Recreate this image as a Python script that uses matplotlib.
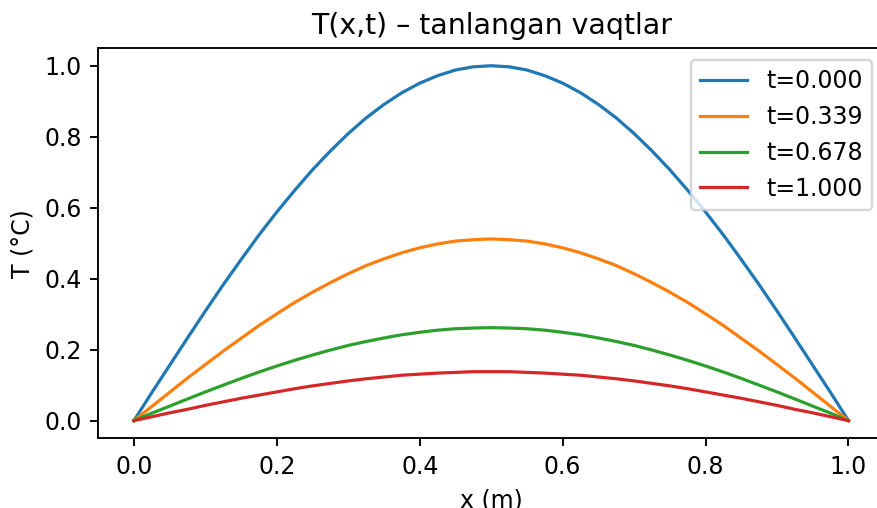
import matplotlib
matplotlib.use("Agg")
import matplotlib.pyplot as plt

x = [0.000, 0.025, 0.050, 0.075, 0.100, 0.125, 0.150, 0.175, 0.200, 0.225,
     0.250, 0.275, 0.300, 0.325, 0.350, 0.375, 0.400, 0.425, 0.450, 0.475,
     0.500, 0.525, 0.550, 0.575, 0.600, 0.625, 0.650, 0.675, 0.700, 0.725,
     0.750, 0.775, 0.800, 0.825, 0.850, 0.875, 0.900, 0.925, 0.950, 0.975, 1.000]

T_000 = [0.000, 0.079, 0.156, 0.233, 0.309, 0.383, 0.454, 0.523, 0.588, 0.649,
         0.707, 0.760, 0.809, 0.853, 0.891, 0.924, 0.951, 0.972, 0.988, 0.997,
         1.000, 0.997, 0.988, 0.972, 0.951, 0.924, 0.891, 0.853, 0.809, 0.760,
         0.707, 0.649, 0.588, 0.523, 0.454, 0.383, 0.309, 0.233, 0.156, 0.079, 0.000]

T_339 = [0.000, 0.040, 0.080, 0.120, 0.158, 0.196, 0.232, 0.268, 0.301, 0.333,
         0.362, 0.389, 0.414, 0.437, 0.456, 0.473, 0.487, 0.498, 0.506, 0.510,
         0.512, 0.510, 0.506, 0.498, 0.487, 0.473, 0.456, 0.437, 0.414, 0.389,
         0.362, 0.333, 0.301, 0.268, 0.232, 0.196, 0.158, 0.120, 0.080, 0.040, 0.000]

T_678 = [0.000, 0.021, 0.041, 0.061, 0.081, 0.100, 0.119, 0.137, 0.154, 0.170,
         0.185, 0.199, 0.212, 0.223, 0.233, 0.242, 0.249, 0.255, 0.259, 0.261,
         0.262, 0.261, 0.259, 0.255, 0.249, 0.242, 0.233, 0.223, 0.212, 0.199,
         0.185, 0.170, 0.154, 0.137, 0.119, 0.100, 0.081, 0.061, 0.041, 0.021, 0.000]

T_100 = [0.000, 0.011, 0.022, 0.032, 0.043, 0.053, 0.063, 0.072, 0.081, 0.090,
         0.098, 0.105, 0.112, 0.118, 0.123, 0.128, 0.131, 0.134, 0.136, 0.138,
         0.138, 0.138, 0.136, 0.134, 0.131, 0.128, 0.123, 0.118, 0.112, 0.105,
         0.098, 0.090, 0.081, 0.072, 0.063, 0.053, 0.043, 0.032, 0.022, 0.011, 0.000]

labels = ["t=0.000", "t=0.339", "t=0.678", "t=1.000"]
series = [T_000, T_339, T_678, T_100]

W, H, DPI = 877, 508, 170
fig = plt.figure(figsize=(W / DPI, H / DPI), dpi=DPI)
ax = fig.add_axes([98.2 / W, 1 - 438.4 / H, 786.0 / W, 390.4 / H])
for s, lab in zip(series, labels):
    ax.plot(x, s, label=lab, linewidth=1.35)
ax.set_title("T(x,t) – tanlangan vaqtlar")
ax.set_xlabel("x (m)")
ax.set_ylabel("T (°C)")
ax.legend(loc="upper right")
fig.savefig("out.png", dpi=DPI)
